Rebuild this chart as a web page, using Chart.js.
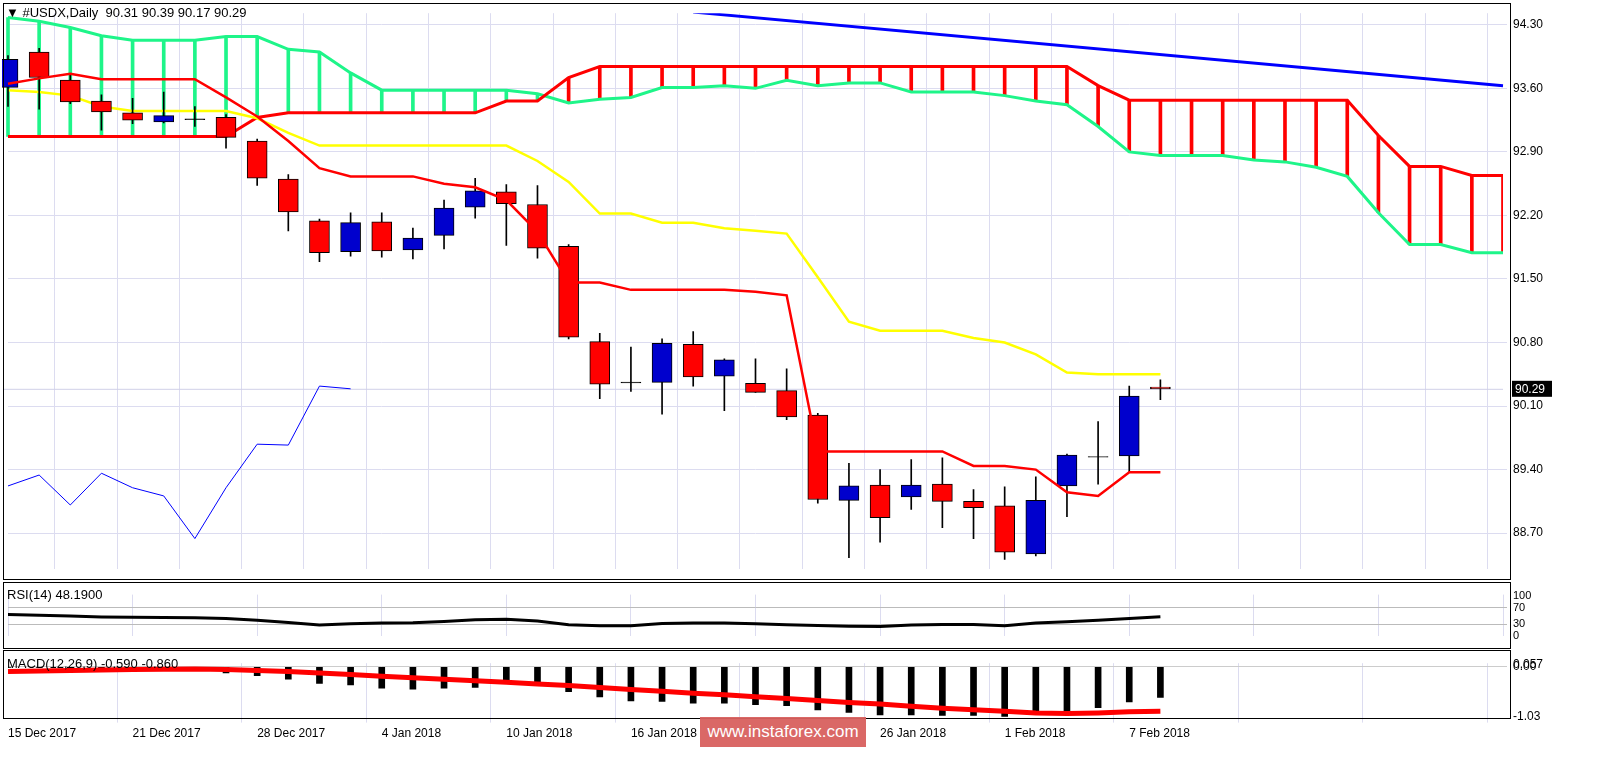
<!DOCTYPE html>
<html><head><meta charset="utf-8">
<script src="https://cdn.jsdelivr.net/npm/chart.js@4.4.1/dist/chart.umd.min.js"></script>
<style>
body{margin:0;background:#fff;width:1605px;height:764px;overflow:hidden;font-family:"Liberation Sans",Arial,sans-serif}
.c{position:absolute;left:0;width:1605px}
.frame{position:absolute;border:1px solid #000;box-sizing:border-box;pointer-events:none}
.t{position:absolute;font-size:13px;color:#000;white-space:pre}
</style></head><body>
<canvas id="main" class="c" style="top:0;height:582px"></canvas>
<canvas id="rsi" class="c" style="top:582px;height:67px"></canvas>
<canvas id="macd" class="c" style="top:650px;height:95px"></canvas>
<div class="frame" style="left:3px;top:3px;width:1508px;height:577px"></div>
<div class="frame" style="left:3px;top:582px;width:1508px;height:67px"></div>
<div class="frame" style="left:3px;top:650px;width:1508px;height:69px"></div>
<div class="t" style="left:6px;top:5px">▼ #USDX,Daily  90.31 90.39 90.17 90.29</div>
<div class="t" style="left:7px;top:587px">RSI(14) 48.1900</div>
<div class="t" style="left:7px;top:656px">MACD(12,26,9) -0.590 -0.860</div>
<div style="position:absolute;left:700px;top:717px;width:166px;height:30px;background:#d9605e;color:#fff;font-size:17px;line-height:30px;text-align:center;opacity:.95">www.instaforex.com</div>
<script>
const categories=['15 Dec 2017','18 Dec','19 Dec','20 Dec','21 Dec 2017','22 Dec','26 Dec','27 Dec','28 Dec 2017','29 Dec','2 Jan','3 Jan','4 Jan 2018','5 Jan','8 Jan','9 Jan','10 Jan 2018','11 Jan','12 Jan','15 Jan','16 Jan 2018','17 Jan','18 Jan','19 Jan','22 Jan','23 Jan','24 Jan','25 Jan','26 Jan 2018','29 Jan','30 Jan','31 Jan','1 Feb 2018','2 Feb','5 Feb','6 Feb','7 Feb 2018','8 Feb','f1','f2','f3','f4','f5','f6','f7','f8','f9','f10','f11'];
const shownLabels={0:'15 Dec 2017',4:'21 Dec 2017',8:'28 Dec 2017',12:'4 Jan 2018',16:'10 Jan 2018',20:'16 Jan 2018',28:'26 Jan 2018',32:'1 Feb 2018',36:'7 Feb 2018'};
const openV=[93.61,94.00,93.69,93.46,93.33,93.23,93.26,93.28,93.02,92.60,92.14,91.80,92.13,91.82,91.98,92.29,92.46,92.32,91.86,90.81,90.36,90.36,90.78,90.43,90.35,90.27,90.00,89.06,89.23,89.10,89.24,89.05,89.00,88.47,89.22,89.54,89.55,90.31];
const highV=[93.96,94.04,93.75,93.53,93.49,93.56,93.40,93.31,93.04,92.65,92.16,92.23,92.23,92.06,92.37,92.61,92.54,92.53,91.88,90.90,90.75,90.84,90.92,90.62,90.62,90.51,90.02,89.47,89.40,89.51,89.53,89.18,89.21,89.32,89.57,89.93,90.32,90.39];
const lowV=[93.40,93.37,93.43,93.14,93.21,93.22,93.18,92.94,92.53,92.03,91.69,91.75,91.74,91.72,91.83,92.17,91.87,91.73,90.84,90.18,90.26,90.01,90.32,90.05,90.25,89.95,89.03,88.43,88.60,88.96,88.76,88.64,88.41,88.45,88.88,89.24,89.37,90.17];
const closeV=[93.92,93.72,93.45,93.34,93.25,93.30,93.26,93.06,92.61,92.24,91.79,92.12,91.81,91.95,92.28,92.47,92.33,91.84,90.86,90.34,90.36,90.79,90.42,90.61,90.25,89.98,89.07,89.22,88.87,89.23,89.05,88.98,88.49,89.06,89.56,89.54,90.21,90.29];
const tenkan=[93.65,93.71,93.76,93.70,93.70,93.70,93.70,93.50,93.29,93.02,92.72,92.63,92.63,92.63,92.55,92.51,92.37,92.02,91.46,91.46,91.38,91.38,91.38,91.38,91.36,91.32,89.60,89.60,89.60,89.60,89.60,89.44,89.44,89.40,89.15,89.11,89.37,89.37];
const kijun=[93.58,93.56,93.52,93.40,93.35,93.35,93.35,93.35,93.27,93.11,92.97,92.97,92.97,92.97,92.97,92.97,92.97,92.80,92.57,92.22,92.22,92.12,92.12,92.06,92.03,92.00,91.52,91.03,90.93,90.93,90.93,90.85,90.80,90.67,90.47,90.45,90.45,90.45];
const spanGreen=[94.38,94.34,94.27,94.18,94.13,94.13,94.13,94.17,94.17,94.03,94.00,93.77,93.58,93.58,93.58,93.58,93.58,93.54,93.44,93.48,93.50,93.61,93.61,93.63,93.60,93.69,93.63,93.66,93.66,93.56,93.56,93.56,93.52,93.46,93.42,93.18,92.90,92.86,92.86,92.86,92.81,92.79,92.73,92.63,92.23,91.88,91.88,91.79,91.79];
const spanRed=[93.07,93.07,93.07,93.07,93.07,93.07,93.07,93.07,93.28,93.33,93.33,93.33,93.33,93.33,93.33,93.33,93.46,93.46,93.72,93.84,93.84,93.84,93.84,93.84,93.84,93.84,93.84,93.84,93.84,93.84,93.84,93.84,93.84,93.84,93.84,93.63,93.47,93.47,93.47,93.47,93.47,93.47,93.47,93.47,93.08,92.74,92.74,92.64,92.64];
const chikou=[89.22,89.34,89.01,89.36,89.20,89.11,88.64,89.20,89.68,89.67,90.32,90.29];
const trendIdx=[22,48], trendVal=[94.44,93.63];
const rsiV=[53.8,52,50,48,47,46.5,46.2,44,40,34,28,31,33,33.5,37,41,42,38,29,26,26.5,32,33,33,31,29,27,25,24.5,28,29.5,29.5,26,33,36,40,44,48.2];
const macdHist=[-0.01,-0.01,-0.02,-0.02,-0.02,-0.03,-0.05,-0.12,-0.17,-0.24,-0.32,-0.35,-0.41,-0.43,-0.41,-0.40,-0.32,-0.32,-0.48,-0.58,-0.66,-0.67,-0.70,-0.70,-0.73,-0.75,-0.83,-0.88,-0.93,-0.93,-0.94,-0.94,-0.96,-0.89,-0.85,-0.79,-0.68,-0.59];
const macdSignal=[-0.09,-0.08,-0.07,-0.06,-0.05,-0.045,-0.04,-0.05,-0.07,-0.09,-0.12,-0.15,-0.18,-0.21,-0.24,-0.27,-0.30,-0.33,-0.36,-0.40,-0.44,-0.47,-0.51,-0.54,-0.58,-0.61,-0.65,-0.69,-0.72,-0.76,-0.80,-0.83,-0.86,-0.89,-0.90,-0.89,-0.87,-0.86];
const priceTicks=[88.7,89.4,90.1,90.8,91.5,92.2,92.9,93.6,94.3];
const rsiTicks=[100,70,30,0];

const FONT={family:'"Liberation Sans",Arial,sans-serif',size:12};
const GREEN='#1ef589',RED='#ff0000',BLUE='#0000cd';
const fixW=s=>{s.width=102;};
function xScale(showLabels,gridEvery){
  return {type:'category',offset:false,
    grid:{drawTicks:showLabels,tickLength:4,color:c=>(c.index%gridEvery===0)?'#dcdcf0':'rgba(0,0,0,0)',borderDash:[4,4]},
    border:{display:false},
    ticks:{display:showLabels,autoSkip:false,maxRotation:0,align:'start',color:'#000',font:FONT,padding:4,
      callback:(v,i)=>shownLabels[i]||''}};
}
const base={responsive:false,animation:false,maintainAspectRatio:false,
  plugins:{legend:{display:false},tooltip:{enabled:false}}};
const n=closeV.length;
const bodies=openV.map((o,i)=>{const c=closeV[i];return Math.abs(o-c)<0.01?[c-0.004,c+0.004]:[Math.min(o,c),Math.max(o,c)];});
const bodyCol=openV.map((o,i)=>closeV[i]>o+0.005?BLUE:(closeV[i]<o-0.005?RED:'#000'));
const wicks=lowV.map((l,i)=>[l,highV[i]]);
const hatch=spanGreen.map((g,i)=>[Math.min(g,spanRed[i]),Math.max(g,spanRed[i])]);
const hatchCol=spanGreen.map((g,i)=>g>=spanRed[i]?GREEN:RED);
const trend=categories.map((_,i)=>{const k=trendIdx.indexOf(i);return k>=0?trendVal[k]:null;});
const clipL={left:6,top:0,right:0,bottom:0};
const priceLine={id:'pl',beforeDatasetsDraw(ch){const y=ch.scales.y.getPixelForValue(closeV[n-1]);const a=ch.chartArea;const x=ch.ctx;x.save();x.strokeStyle='#d0d0e8';x.lineWidth=1;x.beginPath();x.moveTo(3,y+0.5);x.lineTo(a.right,y+0.5);x.stroke();x.restore();},
 afterDraw(ch){const y=ch.scales.y.getPixelForValue(closeV[n-1]);const x=ch.ctx;x.save();x.fillStyle='#000';x.fillRect(1512,y-8,40,16);x.fillStyle='#fff';x.font='12px "Liberation Sans",Arial';x.textBaseline='middle';x.fillText(closeV[n-1].toFixed(2),1515,y+1);x.restore();}};
const lineDs=(data,color,w,order)=>({type:'line',data,borderColor:color,borderWidth:w,pointRadius:0,tension:0,fill:false,order,clip:clipL});
new Chart(document.getElementById('main'),{type:'bar',plugins:[priceLine],
 data:{labels:categories,datasets:[
  {data:hatch,backgroundColor:hatchCol,barThickness:3,grouped:false,order:10,clip:clipL},
  lineDs(spanGreen,GREEN,3,9),
  lineDs(spanRed,RED,3,8),
  {type:'line',data:trend,borderColor:'#0000ff',borderWidth:3,pointRadius:0,spanGaps:true,order:7},
  lineDs(chikou,'#0000ff',1,6),
  lineDs(kijun,'#ffff00',2.5,5),
  {data:wicks,backgroundColor:'#000',barThickness:1,grouped:false,order:4,clip:clipL},
  {data:bodies,backgroundColor:bodyCol,borderColor:'#000',borderWidth:1,borderSkipped:false,barThickness:20,grouped:false,order:3,clip:clipL},
  lineDs(tenkan,RED,2.5,2)
 ]},
 options:{...base,layout:{padding:{left:8,top:3,bottom:2,right:0}},
  scales:{x:xScale(false,2),
   y:{position:'right',min:88.307,max:94.428,afterFit:fixW,afterBuildTicks:s=>{s.ticks=priceTicks.map(v=>({value:v}));},
    grid:{color:'#dcdcf0',borderDash:[4,4],drawTicks:true,tickLength:4},border:{display:false},
    ticks:{color:'#000',font:FONT,padding:6,callback:v=>v.toFixed(2)}}}}});
new Chart(document.getElementById('rsi'),{type:'line',
 data:{labels:categories,datasets:[{data:rsiV,borderColor:'#000',borderWidth:3,pointRadius:0,tension:0}]},
 options:{...base,layout:{padding:{left:8,top:1,bottom:1}},
  scales:{x:xScale(false,4),
   y:{position:'right',min:0,max:103,afterFit:fixW,afterBuildTicks:s=>{s.ticks=rsiTicks.map(v=>({value:v}));},
    grid:{color:c=>(c.tick.value===70||c.tick.value===30)?'#bbbbbb':'rgba(0,0,0,0)',borderDash:[3,3],tickLength:4},border:{display:false},
    ticks:{color:'#000',font:{...FONT,size:11},padding:6,autoSkip:false}}}}});
new Chart(document.getElementById('macd'),{type:'bar',
 data:{labels:categories,datasets:[
  {type:'line',data:macdSignal,borderColor:RED,borderWidth:5,pointRadius:0,tension:0,order:1},
  {data:macdHist,backgroundColor:'#000',barThickness:6,order:2}]},
 options:{...base,layout:{padding:{left:8,top:1,bottom:0}},
  scales:{x:xScale(true,4),
   y:{position:'right',min:-1.0,max:0.07,afterFit:fixW,afterBuildTicks:s=>{s.ticks=[{value:0.0},{value:0.045},{value:-0.96}];},
    grid:{color:c=>c.tick.value===0?'#cccccc':'rgba(0,0,0,0)',borderDash:[3,3],tickLength:4},border:{display:false},
    ticks:{color:'#000',font:FONT,padding:6,autoSkip:false,callback:v=>v===0?'0.00':(v>0?'0.057':'-1.03')}}}}});
</script></body></html>
